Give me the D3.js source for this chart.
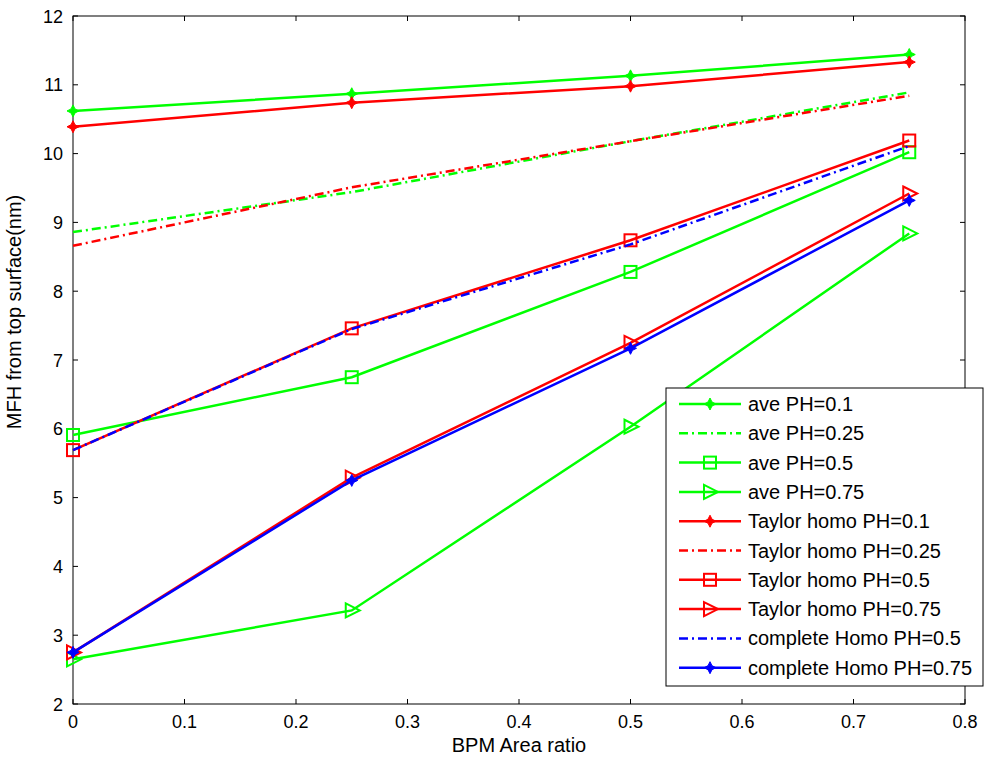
<!DOCTYPE html>
<html>
<head>
<meta charset="utf-8">
<script src="https://cdn.jsdelivr.net/npm/d3@7"></script>
<style>
  body { margin: 0; background: #fff; }
  text { font-family: Arial, "Liberation Sans", sans-serif; }
</style>
</head>
<body>
<div id="plot"></div>
<script>
// x values (BPM area ratio)
var xVals = [0, 0.25, 0.5, 0.75];

// series values
var avePH01 = [10.62, 10.87, 11.13, 11.44];
var avePH025 = [8.86, 9.44, 10.18, 10.89];
var avePH05 = [5.91, 6.75, 8.28, 10.02];
var avePH075 = [2.65, 3.36, 6.03, 8.84];
var taylorPH01 = [10.39, 10.74, 10.98, 11.33];
var taylorPH025 = [8.66, 9.51, 10.18, 10.84];
var taylorPH05 = [5.69, 7.46, 8.74, 10.19];
var taylorPH075 = [2.75, 5.29, 7.25, 9.42];
var completePH05 = [5.69, 7.45, 8.68, 10.11];
var completePH075 = [2.75, 5.25, 7.17, 9.32];

var xTicks = [0, 0.1, 0.2, 0.3, 0.4, 0.5, 0.6, 0.7, 0.8];
var yTicks = [2, 3, 4, 5, 6, 7, 8, 9, 10, 11, 12];

var series = [
  {name: "ave PH=0.1", values: avePH01, color: "#00ff00", dash: null, marker: "star"},
  {name: "ave PH=0.25", values: avePH025, color: "#00ff00", dash: "9,4,2,4", marker: null},
  {name: "ave PH=0.5", values: avePH05, color: "#00ff00", dash: null, marker: "square"},
  {name: "ave PH=0.75", values: avePH075, color: "#00ff00", dash: null, marker: "triangle"},
  {name: "Taylor homo PH=0.1", values: taylorPH01, color: "#ff0000", dash: null, marker: "star"},
  {name: "Taylor homo PH=0.25", values: taylorPH025, color: "#ff0000", dash: "9,4,2,4", marker: null},
  {name: "Taylor homo PH=0.5", values: taylorPH05, color: "#ff0000", dash: null, marker: "square"},
  {name: "Taylor homo PH=0.75", values: taylorPH075, color: "#ff0000", dash: null, marker: "triangle"},
  {name: "complete Homo PH=0.5", values: completePH05, color: "#0000ff", dash: "9,4,2,4", marker: null},
  {name: "complete Homo PH=0.75", values: completePH075, color: "#0000ff", dash: null, marker: "star"}
];

var W = 984, H = 759;
var margin = {top: 16, right: 19, bottom: 55, left: 73},
    width = W - margin.left - margin.right,
    height = H - margin.top - margin.bottom;

var svg = d3.select("div#plot")
  .append("svg")
    .attr("width", W)
    .attr("height", H)
  .append("g")
    .attr("transform", "translate(" + margin.left + "," + margin.top + ")");

var x = d3.scaleLinear().domain([0, 0.8]).range([0, width]);
var y = d3.scaleLinear().domain([2, 12]).range([height, 0]);

// box
svg.append("rect")
  .attr("width", width).attr("height", height)
  .attr("fill", "none").attr("stroke", "#000").attr("stroke-width", 1);

// ticks on all four sides (matlab style)
var tl = 5;
svg.selectAll(".xt").data(xTicks).enter().append("path")
  .attr("d", function(d) { return "M" + x(d) + "," + height + "v" + (-tl) + "M" + x(d) + ",0v" + tl; })
  .attr("stroke", "#000");
svg.selectAll(".yt").data(yTicks).enter().append("path")
  .attr("d", function(d) { return "M0," + y(d) + "h" + tl + "M" + width + "," + y(d) + "h" + (-tl); })
  .attr("stroke", "#000");

svg.selectAll(".xl").data(xTicks).enter().append("text")
  .attr("x", function(d) { return x(d); })
  .attr("y", height + 24)
  .attr("text-anchor", "middle")
  .style("font-size", "18px")
  .text(function(d) { return d3.format("")(d); });
svg.selectAll(".yl").data(yTicks).enter().append("text")
  .attr("x", -10)
  .attr("y", function(d) { return y(d) + 6.5; })
  .attr("text-anchor", "end")
  .style("font-size", "18px")
  .text(function(d) { return d; });

svg.append("text")
  .attr("x", width / 2).attr("y", height + 48)
  .attr("text-anchor", "middle")
  .style("font-size", "20px")
  .text("BPM Area ratio");
svg.append("text")
  .attr("transform", "translate(-52," + (312 - margin.top) + ") rotate(-90)")
  .attr("text-anchor", "middle")
  .style("font-size", "20px")
  .text("MFH from top surface(nm)");

var line = d3.line()
  .x(function(d, i) { return x(xVals[i]); })
  .y(function(d) { return y(d); });

function drawMarker(g, type, color) {
  if (type === "star") {
    g.append("path")
      .attr("d", "M0,-6L2,-2L6,0L2,2L0,6L-2,2L-6,0L-2,-2Z")
      .attr("fill", color).attr("stroke", color).attr("stroke-width", 1);
  } else if (type === "square") {
    g.append("rect")
      .attr("x", -6).attr("y", -6).attr("width", 12).attr("height", 12)
      .attr("fill", "none").attr("stroke", color).attr("stroke-width", 2);
  } else if (type === "triangle") {
    g.append("path")
      .attr("d", "M-6,-7L8,0L-6,7Z")
      .attr("fill", "none").attr("stroke", color).attr("stroke-width", 2);
  }
}

series.forEach(function(s) {
  svg.append("path")
    .datum(s.values)
    .attr("d", line)
    .attr("fill", "none")
    .attr("stroke", s.color)
    .attr("stroke-width", 2.5)
    .attr("stroke-dasharray", s.dash);
  if (s.marker) {
    s.values.forEach(function(v, i) {
      var g = svg.append("g").attr("transform", "translate(" + x(xVals[i]) + "," + y(v) + ")");
      drawMarker(g, s.marker, s.color);
    });
  }
});

// legend
var lx = 666 - margin.left, ly = 388 - margin.top, lw = 317, lh = 298, step = 29.3;
var legend = svg.append("g").attr("transform", "translate(" + lx + "," + ly + ")");
legend.append("rect")
  .attr("width", lw).attr("height", lh)
  .attr("fill", "#fff").attr("stroke", "#000");
series.forEach(function(s, i) {
  var cy = 16 + i * step;
  legend.append("line")
    .attr("x1", 13).attr("x2", 75).attr("y1", cy).attr("y2", cy)
    .attr("stroke", s.color).attr("stroke-width", 2.5)
    .attr("stroke-dasharray", s.dash);
  if (s.marker) {
    var g = legend.append("g").attr("transform", "translate(44," + cy + ")");
    drawMarker(g, s.marker, s.color);
  }
  legend.append("text")
    .attr("x", 82).attr("y", cy + 7)
    .style("font-size", "20px")
    .text(s.name);
});
</script>
</body>
</html>
